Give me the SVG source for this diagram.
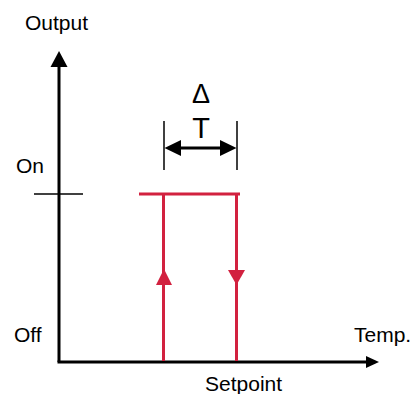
<svg xmlns="http://www.w3.org/2000/svg" width="413" height="394" viewBox="0 0 413 394">
<style>
.t{font-family:"Liberation Sans",Arial,sans-serif;font-size:21px;fill:#000}
.ax{stroke:#000;stroke-width:3;fill:none}
.red{stroke:#d2213f;stroke-width:3;fill:none}
</style>
<rect width="413" height="394" fill="#fff"/>
<g id="connectors">
<line class="ax" x1="59" y1="362" x2="59" y2="64"/>
<polygon points="59,51 50.5,67 67.5,67" fill="#000"/>
<line class="ax" x1="57.5" y1="362" x2="368" y2="362"/>
<polygon points="379,362 366,356 366,368" fill="#000"/>
<line x1="34" y1="194" x2="83" y2="194" stroke="#000" stroke-width="1.5"/>
<line x1="164" y1="121" x2="164" y2="170" stroke="#000" stroke-width="1.5"/>
<line x1="237" y1="121" x2="237" y2="170" stroke="#000" stroke-width="1.5"/>
<line x1="175" y1="148" x2="226" y2="148" stroke="#000" stroke-width="3"/>
<polygon points="164.5,148 181,140 181,156" fill="#000"/>
<polygon points="236.5,148 220,140 220,156" fill="#000"/>
</g>
<g id="hysteresis">
<line class="red" x1="139" y1="194" x2="240" y2="194"/>
<line class="red" x1="163.5" y1="194" x2="163.5" y2="361"/>
<line class="red" x1="236.5" y1="194" x2="236.5" y2="361"/>
<polygon points="164,269 156,285 172,285" fill="#d2213f"/>
<polygon points="236.5,285 228,270 245,270" fill="#d2213f"/>
</g>
<g id="labels">
<text class="t" x="25" y="30">Output</text>
<text class="t" x="16" y="173">On</text>
<text class="t" x="14" y="342">Off</text>
<text class="t" x="354" y="342">Temp.</text>
<text class="t" x="205" y="391">Setpoint</text>
<text class="t" x="201" y="103" text-anchor="middle" style="font-size:27px">Δ</text>
<text class="t" x="201" y="138" text-anchor="middle" style="font-size:29px">T</text>
</g>
</svg>
